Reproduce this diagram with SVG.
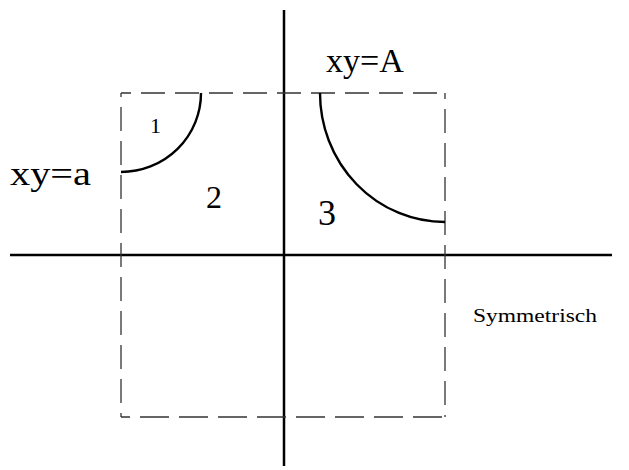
<svg xmlns="http://www.w3.org/2000/svg" width="629" height="470" viewBox="0 0 629 470">
<style>
.axis{stroke:#000;stroke-width:2.5;fill:none}
.dash{stroke:#333;stroke-width:1.3;fill:none;stroke-dasharray:24 10}
.curve{stroke:#000;stroke-width:2.4;fill:none}
.t{font-family:"Liberation Serif","Times New Roman",serif;fill:#000}
</style>
<rect width="629" height="470" fill="#fff"/>
<g id="connectors">
<line class="axis" x1="284" y1="10" x2="284" y2="466"/>
<line class="axis" x1="10" y1="255" x2="612" y2="255"/>
<g id="box">
<line class="dash" x1="121" y1="93" x2="445" y2="93" style="stroke-dashoffset:14"/>
<line class="dash" x1="121" y1="93" x2="121" y2="417" style="stroke-dashoffset:20"/>
<line class="dash" x1="445" y1="93" x2="445" y2="417" style="stroke-dashoffset:18"/>
<line class="dash" x1="121" y1="417" x2="445" y2="417" style="stroke-dashoffset:20;stroke-dasharray:29 10"/>
</g>
</g>
<g id="curve1"><path class="curve" d="M121,172 A80,79 0 0 0 201,93"/></g>
<g id="curve3"><path class="curve" d="M320,93 A125,129 0 0 0 445,222"/></g>
<g id="label-xya"><text class="t" x="10" y="185" font-size="34" textLength="81" lengthAdjust="spacingAndGlyphs">xy=a</text></g>
<g id="label-xyA"><text class="t" x="326" y="72" font-size="34" textLength="78" lengthAdjust="spacingAndGlyphs">xy=A</text></g>
<g id="label-1"><text class="t" x="150" y="133" font-size="22">1</text></g>
<g id="label-2"><text class="t" x="206" y="208" font-size="32">2</text></g>
<g id="label-3"><text class="t" x="318" y="225" font-size="36">3</text></g>
<g id="label-sym"><text class="t" x="473" y="322" font-size="19" textLength="124" lengthAdjust="spacingAndGlyphs">Symmetrisch</text></g>
</svg>
